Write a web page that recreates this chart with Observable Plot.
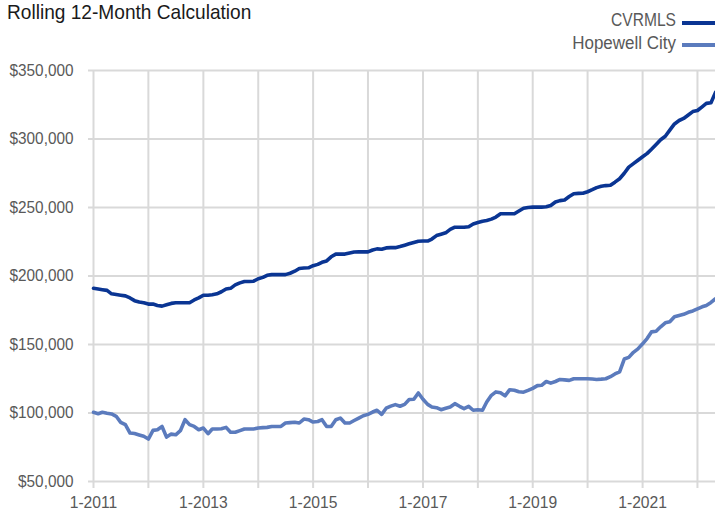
<!DOCTYPE html>
<html>
<head>
<meta charset="utf-8">
<script src="https://cdn.jsdelivr.net/npm/d3@7"></script>
<script src="https://cdn.jsdelivr.net/npm/@observablehq/plot@0.6"></script>
<style>
  html, body { margin: 0; padding: 0; background: #fff; }
  body { width: 715px; height: 517px; position: relative; overflow: hidden;
         font-family: "Liberation Sans", Arial, sans-serif; }
  #subtitle { position: absolute; left: 7px; top: 0px; font-size: 21px; color: #1a1a1a; white-space: nowrap;
              transform-origin: left center; transform: scaleX(0.91); }
  .legtxt { position: absolute; right: 39px; font-size: 17.5px; color: #595959; white-space: nowrap; line-height: 20px;
            transform-origin: right center; }
  .sw { position: absolute; left: 682px; width: 33px; height: 3.5px; }
  #chart { position: absolute; left: 0; top: 56px; }
</style>
</head>
<body>
<div id="subtitle">Rolling 12-Month Calculation</div>
<div class="legtxt" style="top:10px; transform: scaleX(0.89);">CVRMLS</div>
<div class="sw" style="top:21px; background:#0a3593"></div>
<div class="legtxt" style="top:33px; transform: scaleX(0.97);">Hopewell City</div>
<div class="sw" style="top:43px; background:#5b7bbd"></div>
<div id="chart"></div>
<script>
// Monthly series, first month = January 2011 (values in thousands of dollars)
const startMonth = "2011-01-01";
const seriesNames = ["CVRMLS", "Hopewell City"];
const seriesColors = ["#0a3593", "#5b7bbd"];

const cvrmls = [
  191, 190.5, 190, 189.5, 187, 186.5, 186, 185.5, 184, 182, 181, 180.5,
  179.5, 179.5, 178.5, 178, 179, 180, 180.5, 180.5, 180.5, 180.5, 182.5, 184,
  186, 186, 186.3, 187, 188.5, 190.5, 191, 193.5, 195, 196, 196, 196.2,
  198, 199, 200.5, 201, 201, 201, 201, 202, 203.5, 205.5, 205.8, 206,
  207.5, 208.5, 210, 211, 214, 216, 216, 216, 216.8, 217.5, 217.7, 217.6,
  217.6, 219, 219.8, 219.5, 220.5, 220.7, 220.7, 221.5, 222.5, 223.5, 224.5, 225.4,
  225.5, 225.5, 227, 229.5, 230.5, 231.5, 234, 235.6, 235.6, 235.6, 236, 238,
  239, 240, 240.5, 241.5, 243, 245.4, 245.4, 245.4, 245.5, 247.5, 249.5, 250,
  250.3, 250.3, 250.3, 250.5, 251.5, 254, 255, 255.5, 258, 260, 260.3, 260.4,
  261.5, 263, 264.5, 265.5, 266, 266.2, 268.5, 271, 275, 279.5, 282, 284.5,
  287, 289.5, 292.5, 296, 299.5, 302, 306.5, 311, 313.5, 315, 317.5, 320,
  320.8, 323.5, 326, 326.5, 334
];

const hopewell = [
  100.5, 99.5, 100.5, 99.8, 99.3, 97.6, 93.2, 91.5, 85.4, 85, 84, 83,
  81, 87.3, 87.8, 90.2, 82.4, 84.6, 84.1, 87.1, 95.1, 91.5, 90.2, 87.8,
  89, 84.9, 88.3, 88.3, 88.5, 89.5, 85.9, 85.9, 87.1, 88.3, 88.3, 88.3,
  89, 89.3, 89.5, 90.2, 90.2, 90.2, 92.7, 93, 93.2, 92.7, 95.6, 95.1,
  93.4, 93.8, 95.1, 90.2, 90.2, 95.1, 96.3, 92.7, 92.7, 94.5, 96.3, 98,
  99, 100.7, 102, 99, 103.5, 105, 106.1, 104.9, 106.3, 109.8, 110, 114.6,
  110, 106.3, 104.4, 103.9, 102.4, 103.5, 104.4, 106.8, 104.9, 103.2, 104.9, 102,
  102.4, 102, 108, 112.9, 115.4, 114.8, 112.5, 117, 116.6, 115.5, 115.2, 116.5,
  118, 120, 120.2, 123, 121.8, 123, 124.5, 124.2, 123.8, 125, 125, 125,
  125, 124.8, 124.5, 124.7, 125, 126.5, 128.5, 130, 139.4, 140.6, 144.3, 146.8,
  150.5, 154.5, 159.2, 159.7, 162.9, 165.8, 166.6, 170.3, 171.2, 172, 173.5, 174.5,
  176, 177.5, 178.5, 180.7, 183.4
];

const yTicks = [50000, 100000, 150000, 200000, 250000, 300000, 350000];
const xTickYears = [2011, 2012, 2013, 2014, 2015, 2016, 2017, 2018, 2019, 2020, 2021, 2022];
const xLabelYears = [2011, 2013, 2015, 2017, 2019, 2021];

const start = new Date(startMonth + "T00:00:00Z");
const toRows = (vals, name) => vals.map((v, i) => ({
  date: d3.utcMonth.offset(start, i), value: v * 1000, series: name
}));
const rows = [...toRows(cvrmls, seriesNames[0]), ...toRows(hopewell, seriesNames[1])];
const xTicks = xTickYears.map(y => new Date(Date.UTC(y, 0, 1)));
const lastDate = d3.utcMonth.offset(start, cvrmls.length - 1);

const fmt = d3.format(",");
const chart = Plot.plot({
  width: 715,
  height: 461,
  marginLeft: 93,
  marginRight: 0,
  marginTop: 14,
  marginBottom: 36,
  style: { fontFamily: '"Liberation Sans", Arial, sans-serif', fontSize: "16.5px", background: "transparent", overflow: "visible" },
  x: { type: "utc", domain: [start, lastDate] },
  y: { domain: [50000, 350000] },
  color: { domain: seriesNames, range: seriesColors },
  marks: [
    Plot.gridY({ ticks: yTicks, stroke: "#d9d9d9", strokeOpacity: 1, strokeWidth: 2 }),
    Plot.gridX({ ticks: xTicks, stroke: "#d9d9d9", strokeOpacity: 1, strokeWidth: 2 }),
    Plot.axisY({ ticks: yTicks, tickSize: 5, tickPadding: 15, stroke: "#d9d9d9", strokeWidth: 2, fill: "#595959",
      tickFormat: d => "$" + fmt(d), label: null }),
    Plot.axisX({ ticks: xTicks, tickSize: 7, tickPadding: 8, stroke: "#d9d9d9", strokeWidth: 2, fill: "#595959",
      tickFormat: d => xLabelYears.includes(d.getUTCFullYear()) ? "1-" + d.getUTCFullYear() : "", label: null }),
    Plot.lineY(rows, { x: "date", y: "value", z: "series", stroke: "series", strokeWidth: 3.6, strokeLinejoin: "round", strokeLinecap: "round" })
  ]
});

// condense tick label glyphs horizontally (reference uses a condensed face)
function condense(selector, s, size) {
  chart.querySelectorAll(selector).forEach(t => {
    t.style.fontSize = size;
    const tr = t.getAttribute("transform") || "";
    const xa = t.getAttribute("x");
    if (xa !== null && !isNaN(+xa)) t.setAttribute("x", (+xa) / s);
    t.setAttribute("transform", (tr ? tr + " " : "") + `scale(${s},1)`);
  });
}
condense('g[aria-label="y-axis tick label"] text', 0.93, "16.5px");
condense('g[aria-label="x-axis tick label"] text', 0.95, "16.5px");

document.getElementById("chart").appendChild(chart);
</script>
</body>
</html>
